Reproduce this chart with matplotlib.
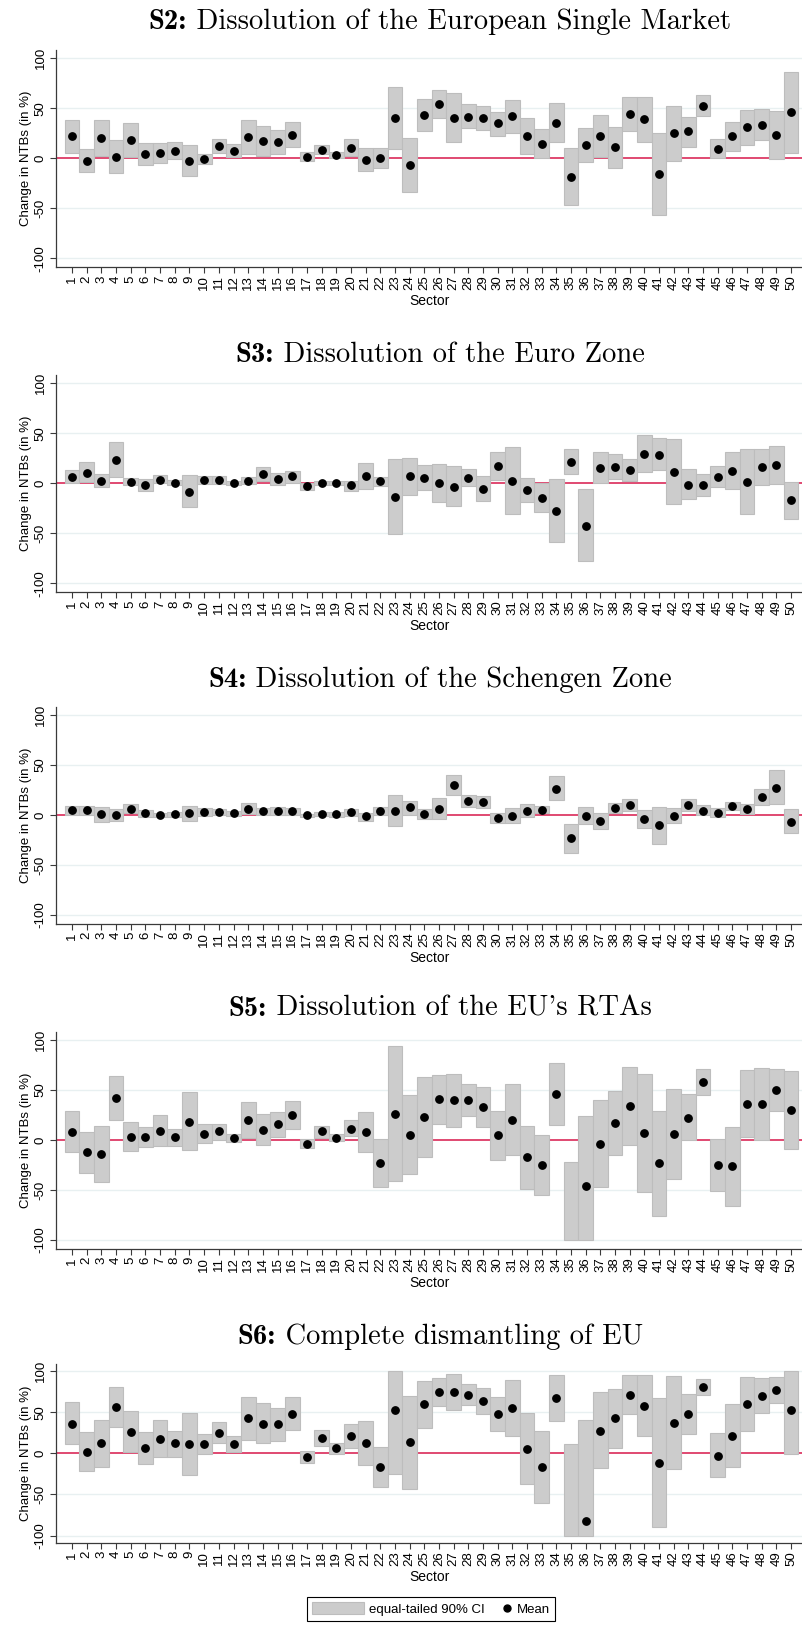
import numpy as np
import matplotlib
matplotlib.use('Agg')
import matplotlib.pyplot as plt
from matplotlib.patches import Patch
from matplotlib.lines import Line2D
from matplotlib.legend_handler import HandlerLine2D
from matplotlib.offsetbox import TextArea, HPacker, AnnotationBbox

nan = np.nan
sectors = list(range(1, 51))

title_tags = ["S2:", "S3:", "S4:", "S5:", "S6:"]
title_texts = [
    "Dissolution of the European Single Market",
    "Dissolution of the Euro Zone",
    "Dissolution of the Schengen Zone",
    "Dissolution of the EU's RTAs",
    "Complete dismantling of EU",
]

# S2
s2_mean = [22, -2.3, 20, 1.7, 18.3, 4, 5, 7.7, -2.3, -1, 12, 7.7, 21, 17.7, 16, 23.3, 1.7, 8.3, 3.3, 10.7,
           -1.3, 0.3, 40.3, -6.3, 43.3, 54.3, 40.7, 41.7, 40.3, 35, 42, 22, 14.3, 35.3, -18.3, 13.3, 22.7, 11, 44.3, 39,
           -15.7, 25, 27, 52.7, 9.3, 22, 31, 33, 23.3, 46]
s2_lo = [5.7, -13.3, 2.3, -15, 1.7, -6.7, -5, -1, -17.7, -6, 5, 1.7, 4, 2.7, 4, 11, -3, 4, 0.3, 2.7,
         -12.7, -10, 9.3, -33.3, 27.3, 40, 16.7, 30, 28.7, 22.7, 25.3, 4, 0, 16, -47, -4, 1.7, -9.7, 27.3, 16.7,
         -57, -2.7, 11.7, 42, 0, 7, 13, 18, -0.7, 5.7]
s2_hi = [38.3, 9.3, 38.3, 18.3, 35, 15, 15, 16, 13.3, 4.3, 19, 14, 38.3, 32, 28.3, 36, 6, 13, 6, 19,
         10, 10, 71.7, 20.7, 59, 68, 65, 54, 52, 46.3, 58.3, 40, 29, 55, 10, 30, 43.3, 31, 61, 61,
         25, 52, 41.7, 63, 19, 36.7, 48, 49, 47.7, 86]

# S3
s3_mean = [6, 10.7, 2.7, 23.7, 1.3, -2, 3.7, 0.7, -8.3, 3, 3.7, 0, 2.7, 9.3, 4.3, 7, -2.7, 0.7, 0.3, -2,
           7.3, 2, -13.3, 7, 5.7, 0, -3.3, 5.7, -5.3, 17.3, 2.7, -7, -14.7, -27.7, 21.3, -42.3, 15, 16.7, 13.3, 29.7,
           28.7, 11.3, -1.7, -2, 6.7, 12.7, 1.7, 16, 18.3, -17]
s3_lo = [0, 1.3, -4, 6, -2, -8, 0, -1.7, -24, -0.7, -0.7, -2, -0.7, 2.7, -2, 0, -6.3, -2, -1.7, -8,
         -6, -2.7, -50.7, -11.7, -6.7, -18.3, -23, -2.7, -18, 3.3, -31, -19, -29, -59, 9, -78, 0, 4.3, 2, 11,
         13, -21, -16, -13, -4, -5.7, -30.3, -2, -1, -36]
s3_hi = [13.3, 21, 9, 41.7, 5.3, 4.3, 8, 3.3, 8.3, 7, 7, 2, 6.7, 16, 10.7, 12, 0.7, 2.7, 2.3, 2.7,
         20, 6, 24, 25.3, 18, 19, 17, 14.7, 7, 31.3, 36, 5.3, 0, 4, 34, -6, 31, 29, 24, 48.7,
         45, 44, 14, 9, 17.7, 31, 34, 34, 37, 1.7]

# S4
s4_mean = [5, 5, 0.7, 0, 6, 1.7, 0.3, 1, 1.7, 3.3, 3, 1.7, 6.3, 4, 4, 3.7, -0.3, 1.3, 0.7, 2.7,
           -1.3, 3.7, 4, 7.7, 1, 6.3, 30, 14, 13, -3, -1, 4, 5.3, 26.3, -23.3, -0.7, -6, 6.7, 10, -4.3,
           -10.3, -0.7, 9.7, 4.3, 2.3, 8.7, 5.7, 18, 27.3, -6.7]
s4_lo = [0, 0, -6.7, -5.7, 1.7, -1.7, -1.7, -1.7, -5.7, -0.7, 0, -1, 1, 0, 0, 0, -1.7, -1, -1.7, -1,
         -5.7, 0, -10.7, 0, -4, -4.3, 20.3, 7.7, 6.7, -7.7, -8.3, -2.3, 1.7, 14.7, -37.7, -9.3, -14.3, 1.7, 4, -13.3,
         -29.3, -8.3, 3.7, -0.3, -1.7, 4.7, 0.7, 10, 10.7, -18.3]
s4_hi = [8.7, 8.7, 7.7, 5.7, 10.7, 4.7, 2.3, 3.3, 9, 6.7, 5.7, 4, 11.7, 7.3, 7.7, 7, 1, 3.3, 3, 6.3,
         2.3, 7.7, 19.7, 14, 6, 17.3, 39.7, 19.7, 19.3, 1.7, 6.7, 10.7, 9, 38.7, -9.3, 8.3, 1.7, 11.7, 16.3, 4.7,
         8.3, 6.7, 15.7, 9.7, 6.7, 12.7, 10.7, 25.7, 45, 5.7]

# S5
s5_mean = [8.3, -12.3, -14, 41.7, 3, 3, 9.3, 3, 18.3, 6.3, 9.3, 2, 20.3, 10.3, 15.7, 24.7, -3.7, 8.7, 2, 11,
           8, -23.3, 26, 5.3, 23, 40.7, 39.7, 40, 33, 5, 20.3, -17.3, -25, 46, nan, -46.3, -4, 17.3, 34, 7,
           -23.3, 6, 22.3, 58, -24.7, -26, 36.3, 35.7, 49.7, 29.7]
s5_lo = [-11.7, -32.7, -42.3, 19.7, -11.3, -7.3, -6, -6, -10.3, -3.3, 0, -1.7, 2.3, -5.3, 3.3, 10.7, -7.7, 2.3, -0.7, 4,
         -11.7, -46.7, -40.7, -34, -17, 16.3, 13.3, 24.3, 12.7, -19.7, -15, -48.7, -55.3, 15.3, -100, -100, -46.7, -15, -5, -52,
         -75.7, -38.7, 0, 44.7, -50.7, -65.7, 2.7, -0.3, 29, -9.3]
s5_hi = [29, 8.3, 14.3, 63.7, 17.7, 13.3, 24.7, 11.3, 48, 15.7, 16, 5.7, 38, 25.7, 28, 39, 0.7, 14, 5.7, 20,
         27.7, 0.7, 94, 45, 62.7, 64.7, 66, 55.7, 52.7, 29.3, 55.7, 13.7, 4.7, 76.7, -22.3, 23.7, 39.7, 49, 72.7, 65.7,
         28.7, 50.7, 45.7, 70.7, 1, 13, 70, 71.7, 70.7, 69]

# S6
s6_mean = [36, 2, 12.1, 55.9, 26.3, 6.5, 17, 12.1, 10.9, 10.9, 25.1, 10.9, 42.5, 36, 35.2, 48.2, -4.9, 18.6, 6.5, 21,
           12.6, -16.2, 52.2, 13.4, 59.5, 74.5, 74.1, 71.3, 63.6, 47.4, 54.7, 5.3, -16.6, 66.8, nan, -82.2, 27.5, 42.5, 70.9, 57.9,
           -12.1, 37.2, 47.8, 80.6, -2.8, 21.5, 59.5, 70, 76.9, 52.6]
s6_lo = [10.9, -21.5, -16.2, 31.6, 2, -13.4, -4.9, -4, -26.7, -1.2, 12.1, 2, 16.2, 12.1, 14.6, 28.7, -12.1, 9.3, -0.8, 6.1,
         -14.6, -40.5, -25.5, -43.7, 30.4, 57.5, 52.2, 58.7, 47.8, 26.7, 20.6, -37.7, -59.9, 39.7, -100, -100, -18.2, 6.9, 47.4, 20.6,
         -89.9, -18.6, 23.5, 70.9, -29.1, -16.2, 26.7, 48.6, 60.7, -1.2]
s6_hi = [61.9, 26.3, 40.5, 81, 51.4, 25.9, 40.1, 27.1, 49, 23.5, 38.1, 21, 68.4, 61.1, 54.7, 68, 2.8, 27.9, 12.1, 35.2,
         39.3, 8.1, 100, 69.6, 87.4, 91.5, 96, 84.6, 79, 68, 88.7, 48.6, 26.7, 94.7, 10.9, 40.5, 74.1, 77.7, 94.7, 95.1,
         66.8, 93.5, 72.1, 89.9, 24.3, 59.5, 92.3, 91.1, 93.1, 100]

yticks = [-100, -50, 0, 50, 100]
ytick_labels = ["-100", "-50", "0", "50", "100"]

panels = [
    (s2_mean, s2_lo, s2_hi),
    (s3_mean, s3_lo, s3_hi),
    (s4_mean, s4_lo, s4_hi),
    (s5_mean, s5_lo, s5_hi),
    (s6_mean, s6_lo, s6_hi),
]


class HandlerDotRight(HandlerLine2D):
    # put the single marker near the right end of the handle box
    def get_xdata(self, legend, xdescent, ydescent, width, height, fontsize):
        x = np.array([-xdescent + width - 0.35 * fontsize])
        return x, x


plt.rcParams['font.family'] = ['Liberation Sans', 'DejaVu Sans']
plt.rcParams['axes.unicode_minus'] = False

W, H = 803, 1627
fig = plt.figure(figsize=(W / 100, H / 100), dpi=100)
fig.patch.set_facecolor('white')

# (top, bottom) of each plot region in pixels, and title baselines
boxes_px = [(50.3, 267.3), (375.3, 592.3), (707, 924), (1032, 1249), (1364.4, 1543)]
title_y = [29, 362, 687, 1016, 1344]

box_fc = '#cccccc'
box_ec = '#bdbdbd'
axis_c = '#3a3a3a'
red = '#d7174a'
grid_c = '#e8f0f1'

for i, (mean, lo, hi) in enumerate(panels):
    top, bottom = boxes_px[i]
    ax = fig.add_axes([56 / W, 1 - bottom / H, 747 / W, (bottom - top) / H])
    lo = np.array(lo)
    hi = np.array(hi)
    for y in [-100, -50, 50, 100]:
        ax.axhline(y, color=grid_c, lw=1.0, zorder=0)
    ax.axhline(0, color=red, lw=1.1, zorder=1)
    ax.bar(sectors, hi - lo, bottom=lo, width=1.0, color=box_fc, edgecolor=box_ec,
           linewidth=0.8, zorder=2)
    ax.plot(sectors, mean, 'o', color='black', ms=5.3, zorder=3)

    ax.set_xlim(-0.1, 50.82)
    ax.set_ylim(-109, 108)
    ax.set_xticks(sectors)
    ax.set_xticklabels([str(s) for s in sectors], rotation=90, fontsize=9.5)
    ax.set_yticks(yticks)
    ax.set_yticklabels(ytick_labels, rotation=90, va='center', fontsize=9.5)
    ax.tick_params(axis='both', length=4.3, width=0.8, color=axis_c, pad=1.5)
    ax.tick_params(axis='y', pad=2.5)
    for side in ['top', 'right']:
        ax.spines[side].set_visible(False)
    for side in ['left', 'bottom']:
        ax.spines[side].set_color(axis_c)
        ax.spines[side].set_linewidth(0.9)
    ax.set_xlabel('Sector', fontsize=10, labelpad=3)
    ax.set_ylabel('Change in NTBs (in %)', fontsize=9.5, labelpad=1.5)

    # title: bold tag + roman text, Computer Modern look
    tag = TextArea(title_tags[i], textprops=dict(family='cmb10', fontsize=20.6))
    txt = TextArea(" " + title_texts[i], textprops=dict(family='cmr10', fontsize=20.6))
    pack = HPacker(children=[tag, txt], align='baseline', pad=0, sep=0)
    ab = AnnotationBbox(pack, (440 / W, 1 - (title_y[i] + 6) / H), xycoords='figure fraction',
                        box_alignment=(0.5, 0.0), frameon=False, pad=0)
    fig.add_artist(ab)

handles = [Patch(facecolor=box_fc, edgecolor=box_ec, linewidth=0.8),
           Line2D([], [], marker='o', color='black', linestyle='none', ms=5)]
leg = fig.legend(handles, ['equal-tailed 90% CI', 'Mean'], loc='center',
                 bbox_to_anchor=(431 / W, 1 - 1609 / H), ncol=2, fontsize=9.5,
                 frameon=True, fancybox=False, edgecolor='black', framealpha=1,
                 handlelength=3.9, handleheight=1.05, columnspacing=-1.9,
                 handletextpad=0.4, borderpad=0.4, borderaxespad=0,
                 handler_map={Line2D: HandlerDotRight(numpoints=1)})
leg.get_frame().set_linewidth(0.8)

fig.savefig('out.png', dpi=100)
